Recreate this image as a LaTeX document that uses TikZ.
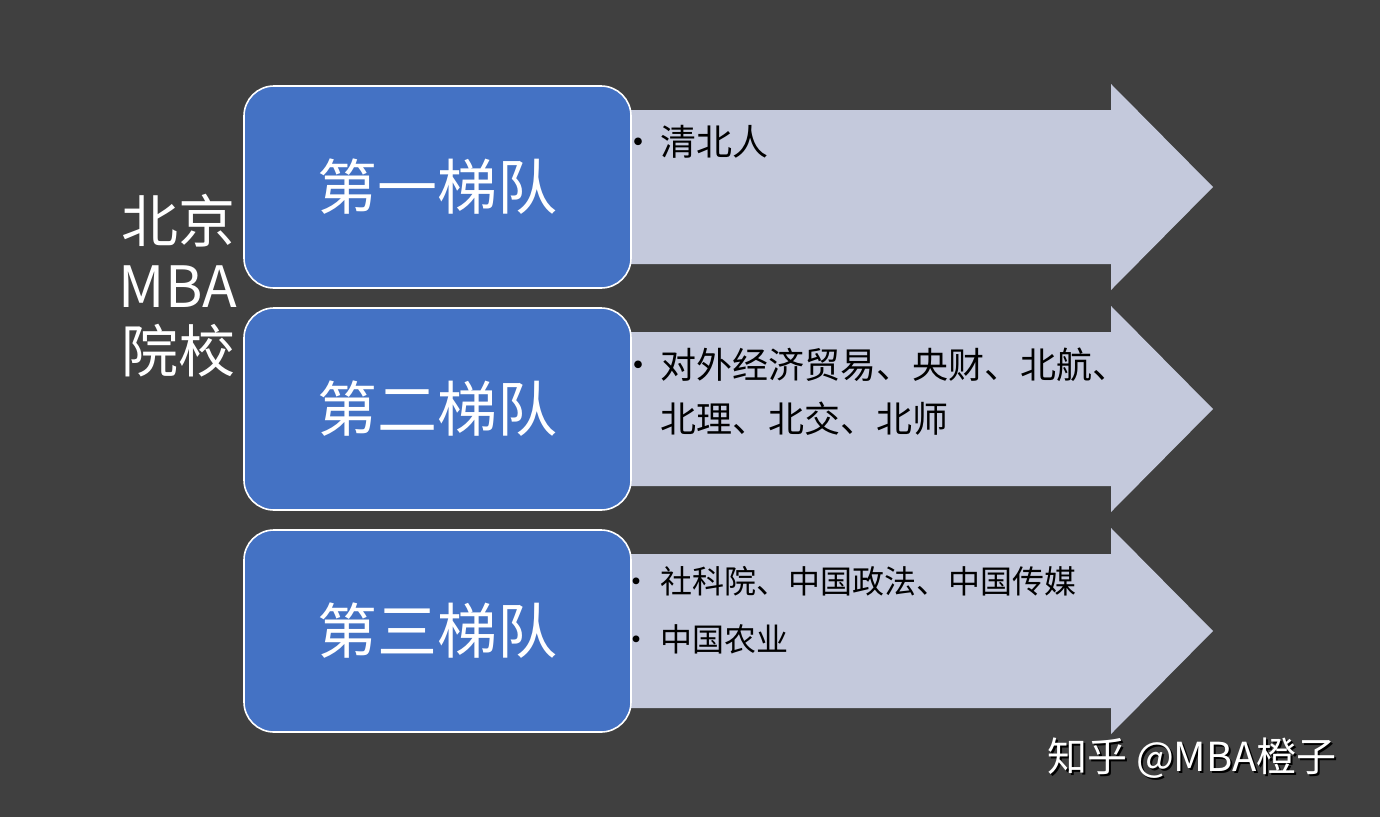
\documentclass[tikz,border=0pt]{standalone}
\usepackage{fontspec}
\setmainfont{Noto Sans CJK SC}
\usetikzlibrary{positioning}
\definecolor{bggray}{RGB}{64,64,64}
\definecolor{tierblue}{RGB}{68,114,196}
\definecolor{arrowfill}{RGB}{196,201,220}
\tikzset{
	tierbox/.style={draw=white, line width=1.6pt, fill=tierblue, rounded corners=30pt,
		minimum width=387pt, minimum height=202pt, text=white,
		font=\fontsize{60}{64}\selectfont},
	bigarrow/.style={fill=arrowfill},
	item/.style={anchor=west, align=left, text=black, inner sep=0pt,
		font=\fontsize{36}{54}\selectfont},
	smallitem/.style={item, font=\fontsize{32}{40}\selectfont},
	sidelabel/.style={align=center, text=white, inner sep=0pt,
		font=\fontsize{57}{65}\selectfont},
	stamp/.style={inner sep=0pt, font=\fontsize{40}{44}\selectfont},
}

\begin{document}
\begin{tikzpicture}[x=1pt, y=-1pt]
	\fill[bggray] (0,0) rectangle (1380,817);
	\useasboundingbox (0,0) rectangle (1380,817);
	% arrows behind the boxes
	\foreach \c in {187,409,631}
		\fill[bigarrow] (600,\c-77) -- (1111,\c-77) -- (1111,\c-103) -- (1213,\c)
			-- (1111,\c+103) -- (1111,\c+77) -- (600,\c+77) -- cycle;
	% the three tiers
	\node[tierbox] (tier1) at (437.5,187) {第一梯队};
	\node[tierbox] (tier2) at (437.5,409) {第二梯队};
	\node[tierbox] (tier3) at (437.5,631) {第三梯队};
	% list items
	\node[item] (item1) at (620,142) {\textbullet\hspace{4pt}清北人};
	\node[item] (item2) at (620,392) {\textbullet\hspace{4pt}对外经济贸易、央财、北航、\\
		\phantom{\textbullet}\hspace{4pt}北理、北交、北师};
	\node[smallitem] (item3) at (620,581) {\textbullet\hspace{8pt}社科院、中国政法、中国传媒};
	\node[smallitem] (item4) at (620,639) {\textbullet\hspace{8pt}中国农业};
	% title on the left
	\node[sidelabel] (title) at (178,286) {北京\\MBA\\院校};
	% watermark
	\node[stamp, text=black] (markshadow) at (1194,760) {知乎 @MBA橙子};
	\node[stamp, text=white] (mark) at (1192,758) {知乎 @MBA橙子};
\end{tikzpicture}
\end{document}
